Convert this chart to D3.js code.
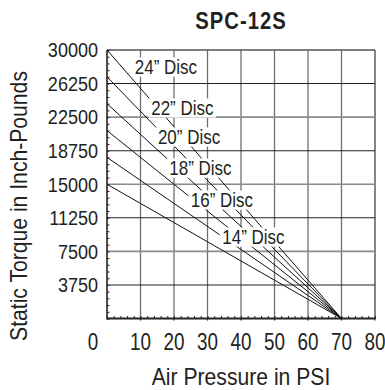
<!DOCTYPE html>
<html><head><meta charset="utf-8">
<script src="https://cdn.jsdelivr.net/npm/d3@7"></script>
<style>
body{margin:0;background:#fff;}
svg{display:block;}
text{font-family:"Liberation Sans",Arial,Helvetica,sans-serif;fill:#231f20;}
</style></head>
<body>
<svg id="chart" width="385" height="390"></svg>
<script>
// ---- data ----
const title = "SPC-12S";
const discLabels = ["24\u201D Disc","22\u201D Disc","20\u201D Disc","18\u201D Disc","16\u201D Disc","14\u201D Disc"];
const startTorque = [30000, 27000, 24000, 21000, 18000, 15000];
const zeroPressure = [70, 70, 70, 70, 70, 70];
const xTicks = [0,10,20,30,40,50,60,70,80];
const yTicks = [3750,7500,11250,15000,18750,22500,26250,30000];
const xTitle = "Air Pressure in PSI";
const yTitle = "Static Torque in Inch-Pounds";

// ---- layout ----
const W=385,H=390, L=107, R=375, T=50, B=318.5;
const labelAnchor = [[17.6,28100],[22.5,23520],[24.5,20280],[27.9,16815],[34.3,13240],[43.7,9106]];

const svg=d3.select("#chart");
const x=d3.scaleLinear().domain([0,80]).range([L,R]);
const y=d3.scaleLinear().domain([0,30000]).range([B,T]);

function stext(g,str,px,py,size,sx,anchor,weight,rot,ls){
  const gg=g.append("g").attr("transform",`translate(${px},${py})`+(rot?` rotate(${rot})`:""));
  const t=gg.append("text").attr("transform",`scale(${sx},1)`).attr("font-size",size)
    .attr("text-anchor",anchor||"start").attr("font-weight",weight||"normal").text(str);
  if(ls) t.attr("letter-spacing",ls);
  return t;
}

// grid
const grid=svg.append("g");
xTicks.filter(d=>d>0).forEach(d=>{
  grid.append("line").attr("x1",x(d)).attr("x2",x(d)).attr("y1",y(0)).attr("y2",y(30000))
    .attr("stroke",d===80?"#444":"#6f6f6f").attr("stroke-width",1.3);
});
yTicks.forEach((d,i)=>{
  const heavy = (i%2===1);
  grid.append("line").attr("x1",x(0)).attr("x2",x(80)).attr("y1",y(d)).attr("y2",y(d))
    .attr("stroke", d===30000?"#555":(heavy?"#8a8a8a":"#222")).attr("stroke-width",heavy||d===30000?1.6:1.1);
});

// axes
const xAxisG=svg.append("g").attr("transform",`translate(0,${B})`);
xAxisG.call(d3.axisBottom(x).ticks(40).tickSize(-2.5).tickFormat(""));
xAxisG.selectAll("path").remove();
xAxisG.selectAll(".tick line").attr("stroke","#222").attr("stroke-width",1);
svg.append("line").attr("x1",L).attr("x2",R).attr("y1",B).attr("y2",B).attr("stroke","#222").attr("stroke-width",2);
svg.selectAll(".xmaj").data(xTicks.filter(d=>d>0)).enter().append("line")
  .attr("x1",d=>x(d)).attr("x2",d=>x(d)).attr("y1",B).attr("y2",B+2).attr("stroke","#222").attr("stroke-width",1.3);

const yAxisG=svg.append("g").attr("transform",`translate(${L},0)`);
yAxisG.call(d3.axisLeft(y).tickValues(d3.range(0,30001,750)).tickSize(-2.5).tickFormat(""));
yAxisG.selectAll("path").remove();
yAxisG.selectAll(".tick line").attr("stroke","#222").attr("stroke-width",1);
svg.append("line").attr("x1",L).attr("x2",L).attr("y1",T).attr("y2",B+1).attr("stroke","#222").attr("stroke-width",1.6);

// data lines
const lines=svg.append("g");
discLabels.forEach((lab,i)=>{
  lines.append("line").attr("x1",x(0)).attr("y1",y(startTorque[i]))
    .attr("x2",x(zeroPressure[i])).attr("y2",y(0))
    .attr("stroke","#111").attr("stroke-width",1);
});

// labels with white boxes
const labG=svg.append("g");
discLabels.forEach((lab,i)=>{
  const cx=x(labelAnchor[i][0]), cy=y(labelAnchor[i][1]);
  const size=20, sx=0.85;
  const g=labG.append("g");
  const rect=g.append("rect").attr("fill","#fff");
  const t=stext(g,lab,cx,cy+size*0.36,size,sx,"middle");
  const w=t.node().getComputedTextLength()*sx;
  rect.attr("x",cx-w/2-2.5).attr("y",cy-size*0.48).attr("width",w+5).attr("height",size*0.96);
});

// tick labels
yTicks.forEach(d=>stext(svg,d3.format("d")(d),98,y(d)+7.3,20.5,0.88,"end"));
xTicks.forEach(d=>stext(svg,String(d),d===0?93:x(d),350,23,0.82,"middle"));

// titles
stext(svg,title,241,29,23,0.88,"middle","bold",null,1.2);
stext(svg,xTitle,241,385,23,0.92,"middle");
stext(svg,yTitle,27,206,23,0.92,"middle",null,-90);
</script>
</body></html>
